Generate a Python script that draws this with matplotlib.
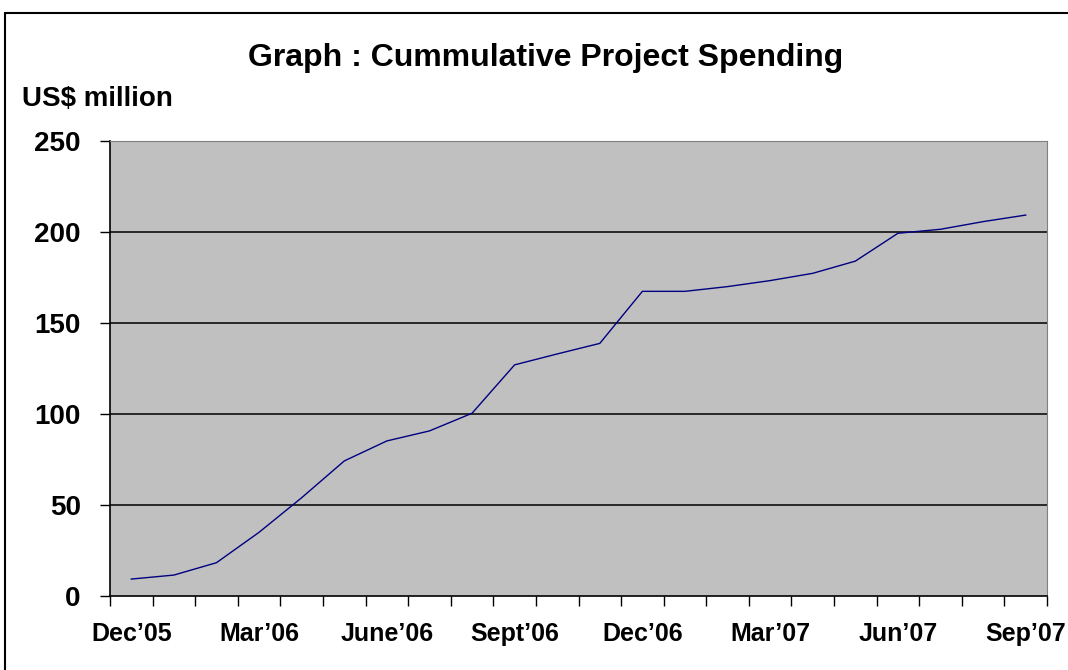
import numpy as np
import matplotlib.pyplot as plt
from matplotlib.patches import Rectangle

# Data (US$ million)
months = ["Dec'05", "Jan'06", "Feb'06", "Mar'06", "Apr'06", "May'06", "June'06",
          "Jul'06", "Aug'06", "Sept'06", "Oct'06", "Nov'06", "Dec'06", "Jan'07",
          "Feb'07", "Mar'07", "Apr'07", "May'07", "Jun'07", "Jul'07", "Aug'07", "Sep'07"]
spending = [9.3, 11.5, 18.3, 35, 54, 74.2, 85.2, 90.7, 100.4, 127, 133, 138.8,
            167.4, 167.4, 170, 173.3, 177.3, 184, 199.3, 201.5, 205.7, 209.3]
shown_labels = ["Dec\u201905", "Mar\u201906", "June\u201906", "Sept\u201906",
                "Dec\u201906", "Mar\u201907", "Jun\u201907", "Sep\u201907"]
yticks = [0, 50, 100, 150, 200, 250]

plt.rcParams['font.family'] = ['Liberation Sans', 'DejaVu Sans']
plt.rcParams['font.weight'] = 'bold'

fig = plt.figure(figsize=(10.68, 6.7), dpi=100)
ax = fig.add_axes([110 / 1068, 1 - 596 / 670, 937 / 1068, 455 / 670])

x = np.arange(len(months))
ax.plot(x, spending, color='#000080', lw=1.0)

ax.set_facecolor('#C0C0C0')
ax.set_xlim(-0.5, len(months) - 0.5)
ax.set_ylim(0, 250)

# y axis
ax.set_yticks(yticks)
ax.set_yticklabels([str(v) for v in yticks], fontsize=20, fontweight='bold')
ax.tick_params(axis='y', length=7, width=1, pad=14, color='black')
for v in yticks[1:-1]:
    ax.axhline(v, color='black', lw=1.1, zorder=1)

# x axis: ticks between categories, labels every third month
ax.set_xticks(np.arange(-0.5, len(months), 1.0))
ax.set_xticklabels([])
ax.tick_params(axis='x', which='major', length=7, width=1, color='black')
lab_pos = [months.index(m.replace('\u2019', "'")) for m in shown_labels]
ax.set_xticks(lab_pos, minor=True)
ax.set_xticklabels(shown_labels, minor=True, fontsize=18, fontweight='bold')
ax.tick_params(axis='x', which='minor', length=0, pad=19)

for side in ['top', 'right']:
    ax.spines[side].set_color('#808080')
for side in ['left', 'bottom']:
    ax.spines[side].set_color('black')
    ax.spines[side].set_linewidth(1.2)

fig.text(546 / 1068, 1 - 58 / 670, "Graph : Cummulative Project Spending",
         ha='center', va='center', fontsize=23, fontweight='bold')
fig.text(22 / 1068, 1 - 99 / 670, "US$ million", ha='left', va='center',
         fontsize=20, fontweight='bold')

# chart area border
fig.patches.append(Rectangle((5 / 1068, -0.1), 1.2, 1 - 13 / 670 + 0.1,
                             transform=fig.transFigure, fill=False,
                             edgecolor='black', lw=1.5))

fig.savefig('out.png', dpi=100)
